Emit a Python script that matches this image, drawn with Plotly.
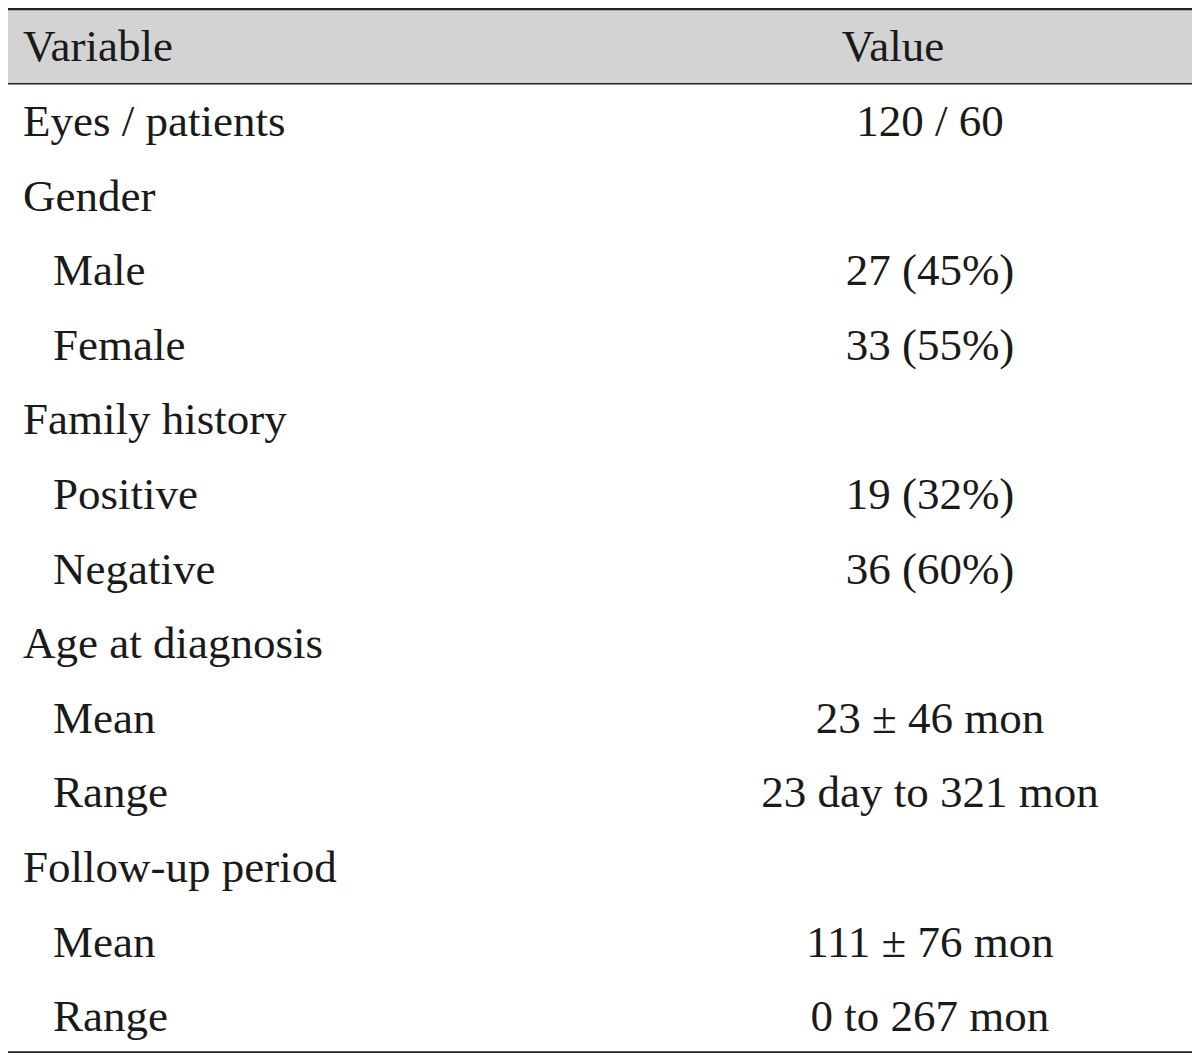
import plotly.graph_objects as go

header_labels = ["Variable", "Value"]
variables = [
    "Eyes / patients",
    "Gender",
    "\u00a0\u00a0\u2006Male",
    "\u00a0\u00a0\u2006Female",
    "Family history",
    "\u00a0\u00a0\u2006Positive",
    "\u00a0\u00a0\u2006Negative",
    "Age at diagnosis",
    "\u00a0\u00a0\u2006Mean",
    "\u00a0\u00a0\u2006Range",
    "Follow-up period",
    "\u00a0\u00a0\u2006Mean",
    "\u00a0\u00a0\u2006Range",
]
values = [
    "120 / 60",
    "",
    "27 (45%)",
    "33 (55%)",
    "",
    "19 (32%)",
    "36 (60%)",
    "",
    "23 ± 46 mon",
    "23 day to 321 mon",
    "",
    "111 ± 76 mon",
    "0 to 267 mon",
]

rows = list(range(1, len(variables) + 1))
font = dict(family="Liberation Serif, Times New Roman, serif", size=45, color="#1a1a1a")

# The page body has an 8px margin; figure sized to fit inside the window.
W, H = 1184, 1047
d = 0.05  # small vertical shift of rules relative to text rows
fig = go.Figure()

# header fill
fig.add_shape(type="rect", xref="x", yref="y", x0=8, x1=1193, y0=-0.5 - d, y1=0.5 - d,
              fillcolor="#d3d3d3", line=dict(width=0), layer="below")
# rules
fig.add_shape(type="line", xref="x", yref="y", x0=8, x1=1193, y0=-0.5 - d, y1=-0.5 - d,
              line=dict(color="#222222", width=2.2))
fig.add_shape(type="line", xref="x", yref="y", x0=8, x1=1193, y0=0.5 - d, y1=0.5 - d,
              line=dict(color="#222222", width=1.6))
fig.add_shape(type="line", xref="x", yref="y", x0=8, x1=1193,
              y0=rows[-1] + 0.48 - d, y1=rows[-1] + 0.48 - d,
              line=dict(color="#222222", width=1.6))

# header
fig.add_trace(go.Scatter(x=[23], y=[0], text=[header_labels[0]], mode="text",
                         textposition="middle right", textfont=font, hoverinfo="skip"))
fig.add_trace(go.Scatter(x=[893], y=[0], text=[header_labels[1]], mode="text",
                         textposition="middle center", textfont=font, hoverinfo="skip"))
# body
fig.add_trace(go.Scatter(x=[23] * len(rows), y=rows, text=variables, mode="text",
                         textposition="middle right", textfont=font, hoverinfo="skip"))
fig.add_trace(go.Scatter(x=[930] * len(rows), y=rows, text=values, mode="text",
                         textposition="middle center", textfont=font, hoverinfo="skip"))

fig.update_layout(
    width=W, height=H,
    margin=dict(l=0, r=0, t=0, b=0),
    paper_bgcolor="white", plot_bgcolor="white",
    showlegend=False,
    xaxis=dict(range=[8, 8 + W], visible=False, fixedrange=True),
    yaxis=dict(range=[13.519 - d, -0.516 - d], visible=False, fixedrange=True),
)

fig.write_html("out.html")
